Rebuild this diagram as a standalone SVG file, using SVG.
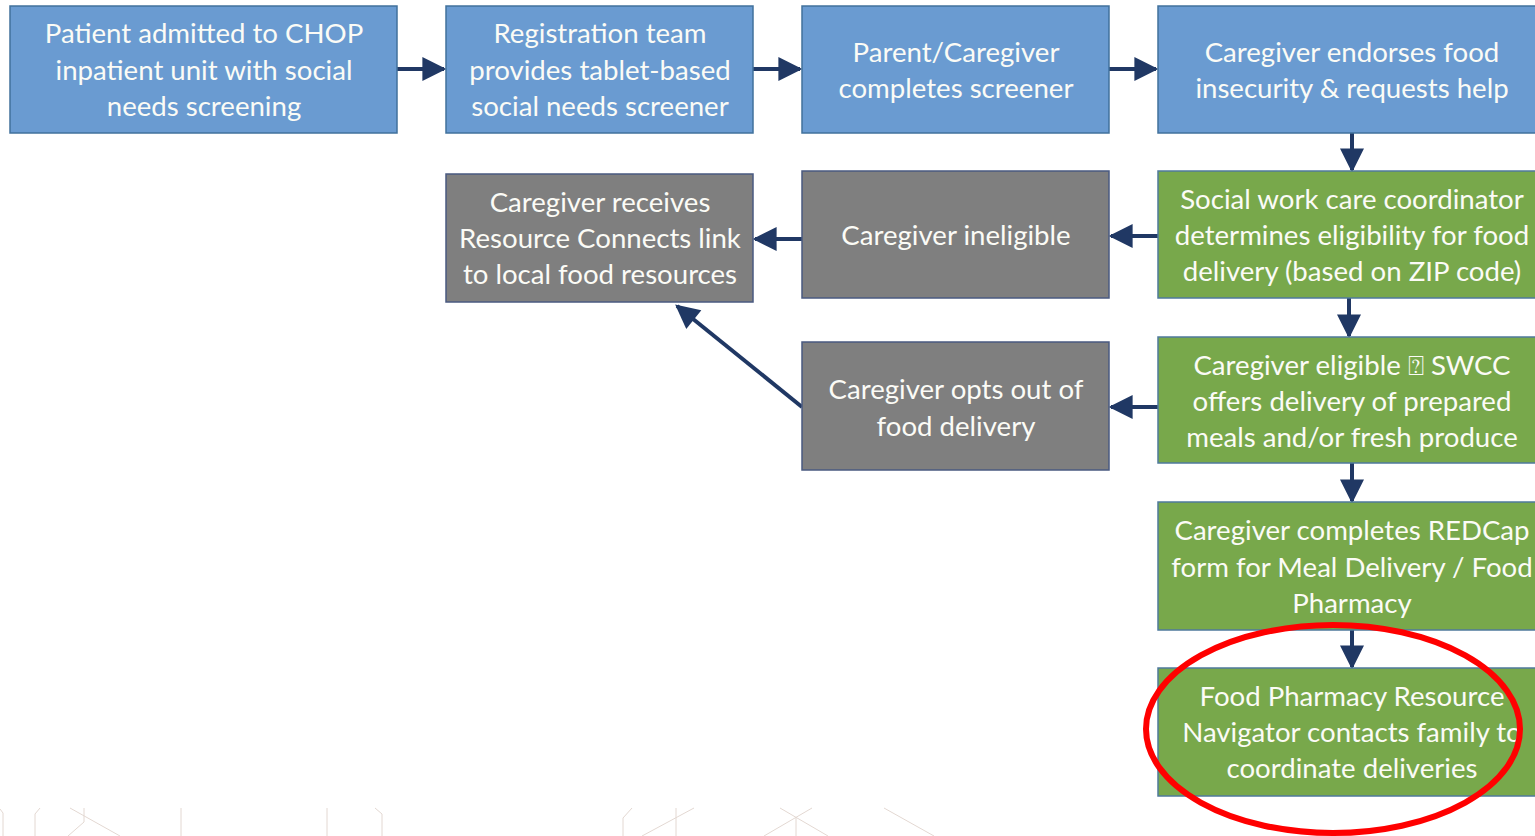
<svg xmlns="http://www.w3.org/2000/svg" width="1535" height="836" viewBox="0 0 1535 836">
  <defs>
    <style>
      .box { stroke: #41719c; stroke-width: 1.5; }
      .blue { fill: #6a9bd1; }
      .green { fill: #78a84b; stroke: #4f7a9c; }
      .gray { fill: #7f7f7f; stroke: #4a5a80; }
      .lbl { font-family: Lato, "Open Sans", sans-serif; font-size: 27.6px; fill: #fbfbf6; text-anchor: middle; }
      .tofu { font-family: "DejaVu Sans", sans-serif; font-size: 27px; }
      .conn { stroke: #203864; stroke-width: 4; fill: none; marker-end: url(#head); }
      .faint { stroke: #e3d8d2; stroke-width: 1; fill: none; }
    </style>
    <marker id="head" viewBox="0 0 10 10" refX="9" refY="5" markerWidth="7" markerHeight="6" markerUnits="strokeWidth" orient="auto">
      <path d="M0,0 L10,5 L0,10 z" fill="#203864"/>
    </marker>
  </defs>
  <rect width="1535" height="836" fill="#ffffff"/>

  <g id="connectors">
    <line class="conn" x1="397" y1="69" x2="444" y2="69"/>
    <line class="conn" x1="753" y1="69" x2="800" y2="69"/>
    <line class="conn" x1="1109" y1="69" x2="1156" y2="69"/>
    <line class="conn" x1="1352" y1="133" x2="1352" y2="170"/>
    <line class="conn" x1="1158" y1="236" x2="1111" y2="236"/>
    <line class="conn" x1="802" y1="239" x2="755" y2="239"/>
    <line class="conn" x1="1349" y1="298" x2="1349" y2="336"/>
    <line class="conn" x1="1158" y1="407" x2="1111" y2="407"/>
    <line class="conn" x1="1352" y1="463" x2="1352" y2="501"/>
    <line class="conn" x1="1352" y1="630" x2="1352" y2="667"/>
    <line class="conn" x1="802" y1="407" x2="677" y2="306"/>
  </g>

  <g id="n1"><rect class="box blue" x="10" y="6" width="387" height="127"/>
    <text class="lbl" x="204" y="43">Patient admitted to CHOP</text>
    <text class="lbl" x="204" y="80">inpatient unit with social</text>
    <text class="lbl" x="204" y="116">needs screening</text></g>
  <g id="n2"><rect class="box blue" x="446" y="6" width="307" height="127"/>
    <text class="lbl" x="600" y="43">Registration team</text>
    <text class="lbl" x="600" y="80">provides tablet-based</text>
    <text class="lbl" x="600" y="116">social needs screener</text></g>
  <g id="n3"><rect class="box blue" x="802" y="6" width="307" height="127"/>
    <text class="lbl" x="956" y="62">Parent/Caregiver</text>
    <text class="lbl" x="956" y="98">completes screener</text></g>
  <g id="n4"><rect class="box blue" x="1158" y="6" width="390" height="127"/>
    <text class="lbl" x="1352" y="62">Caregiver endorses food</text>
    <text class="lbl" x="1352" y="98">insecurity &amp; requests help</text></g>

  <g id="n5"><rect class="box gray" x="446" y="174" width="307" height="128"/>
    <text class="lbl" x="600" y="212">Caregiver receives</text>
    <text class="lbl" x="600" y="248">Resource Connects link</text>
    <text class="lbl" x="600" y="284">to local food resources</text></g>
  <g id="n6"><rect class="box gray" x="802" y="171" width="307" height="127"/>
    <text class="lbl" x="956" y="245">Caregiver ineligible</text></g>
  <g id="n7"><rect class="box green" x="1158" y="171" width="390" height="127"/>
    <text class="lbl" x="1352" y="209">Social work care coordinator</text>
    <text class="lbl" x="1352" y="245">determines eligibility for food</text>
    <text class="lbl" x="1352" y="281">delivery (based on ZIP code)</text></g>

  <g id="n8"><rect class="box gray" x="802" y="342" width="307" height="128"/>
    <text class="lbl" x="956" y="399">Caregiver opts out of</text>
    <text class="lbl" x="956" y="436">food delivery</text></g>
  <g id="n9"><rect class="box green" x="1158" y="337" width="390" height="126"/>
    <text class="lbl" x="1352" y="375">Caregiver eligible <tspan class="tofu">&#x2370;</tspan> SWCC</text>
    <text class="lbl" x="1352" y="411">offers delivery of prepared</text>
    <text class="lbl" x="1352" y="447">meals and/or fresh produce</text></g>

  <g id="n10"><rect class="box green" x="1158" y="502" width="390" height="128"/>
    <text class="lbl" x="1352" y="540">Caregiver completes REDCap</text>
    <text class="lbl" x="1352" y="577">form for Meal Delivery / Food</text>
    <text class="lbl" x="1352" y="613">Pharmacy</text></g>
  <g id="n11"><rect class="box green" x="1158" y="668" width="390" height="128"/>
    <text class="lbl" x="1352" y="706">Food Pharmacy Resource</text>
    <text class="lbl" x="1352" y="742">Navigator contacts family to</text>
    <text class="lbl" x="1352" y="778">coordinate deliveries</text></g>

  <ellipse id="highlight" cx="1333" cy="729" rx="187" ry="104" fill="none" stroke="#ff0000" stroke-width="6"/>

  <!-- faint line work along the lower edge -->
  <g id="faint-lines">
    <path class="faint" d="M0,809 L3,813 L3,836"/>
    <path class="faint" d="M40,808 L35,814 L35,836"/>
    <path class="faint" d="M70,808 L120,836 M84,808 L84,822 L68,836"/>
    <path class="faint" d="M181,808 L181,836"/>
    <path class="faint" d="M327,808 L327,836"/>
    <path class="faint" d="M375,808 L382,814 L382,836"/>
    <path class="faint" d="M632,808 L623,818 L623,836"/>
    <path class="faint" d="M694,808 L642,836 M676,808 L676,836"/>
    <path class="faint" d="M780,808 L828,836 M812,808 L764,836 M796,817 L796,836"/>
    <path class="faint" d="M884,808 L934,836"/>
  </g>
</svg>
